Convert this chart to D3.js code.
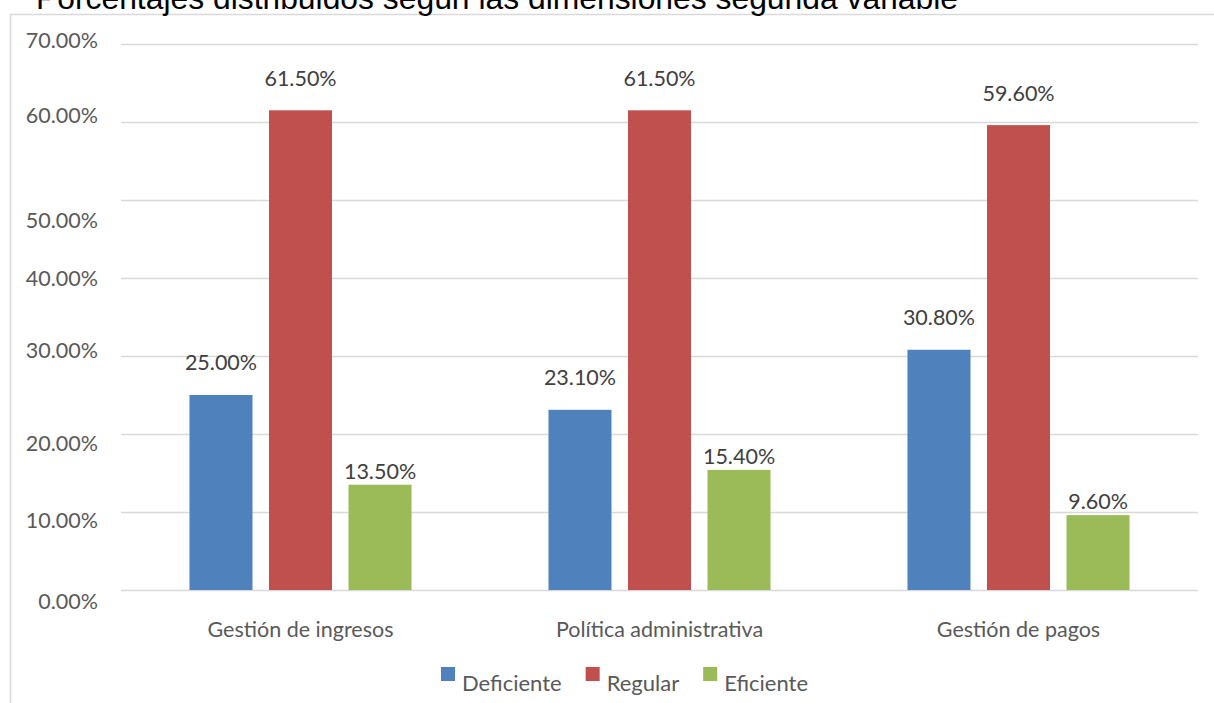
<!DOCTYPE html>
<html>
<head>
<meta charset="utf-8">
<script src="https://cdn.jsdelivr.net/npm/d3@7/dist/d3.min.js"></script>
<style>
  html, body { margin: 0; padding: 0; background: #fff; }
  svg { display: block; }
</style>
</head>
<body>
<svg id="chart" width="1214" height="703"></svg>
<script>
// Data
const categories = ["Gestión de ingresos", "Política administrativa", "Gestión de pagos"];
const seriesNames = ["Deficiente", "Regular", "Eficiente"];
const deficiente = [25.0, 23.1, 30.8];
const regular = [61.5, 61.5, 59.6];
const eficiente = [13.5, 15.4, 9.6];
const yTicks = [0, 10, 20, 30, 40, 50, 60, 70];
const titleText = "Porcentajes distribuidos según las dimensiones segunda variable";

const seriesValues = [deficiente, regular, eficiente];
const colors = ["#4F81BD", "#C0504D", "#9BBB59"];
// gap between bar top and its value label baseline, per series
const labelGap = [25, 24, 6];
// vertical nudge of each y tick label relative to its gridline
const tickNudge = [11, 8, 9, -6, 0, 20, -7, -4];

const font = "Lato, 'Open Sans', sans-serif";
const textColor = "#595959";
const fs = 21.5;

const svg = d3.select("#chart");

// Outer frame
svg.append("path")
  .attr("d", "M10.5,740 V14.5 H1230")
  .attr("fill", "none")
  .attr("stroke", "#d9d9d9")
  .attr("stroke-width", 1.5);

// Title (partly above the visible area)
svg.append("text")
  .attr("x", 36)
  .attr("y", 9)
  .attr("font-family", "'Liberation Sans', Arial, sans-serif")
  .attr("font-size", 31)
  .attr("textLength", 922)
  .attr("lengthAdjust", "spacingAndGlyphs")
  .attr("fill", "#000")
  .text(titleText);

const plot = { left: 121, right: 1198, top: 44, bottom: 590 };

const y = d3.scaleLinear().domain([0, 70]).range([plot.bottom, plot.top]);
const x0 = d3.scaleBand().domain(categories).range([plot.left, plot.right]).paddingInner(0).paddingOuter(0);
const x1 = d3.scaleBand().domain(seriesNames).range([0, x0.bandwidth()]).paddingInner(0.2075).paddingOuter(0.861);

// Gridlines
svg.append("g")
  .selectAll("line")
  .data(yTicks)
  .join("line")
  .attr("x1", plot.left)
  .attr("x2", plot.right)
  .attr("y1", d => Math.round(y(d)) + 0.5)
  .attr("y2", d => Math.round(y(d)) + 0.5)
  .attr("stroke", "#d9d9d9")
  .attr("stroke-width", 1.5);

// Y axis labels
const yAxis = d3.axisLeft(y).tickValues(yTicks).tickSize(0).tickPadding(0)
  .tickFormat(d => d3.format(".2f")(d) + "%");
const yG = svg.append("g").attr("transform", "translate(98,0)").call(yAxis);
yG.select(".domain").remove();
yG.selectAll(".tick text")
  .attr("font-family", font)
  .attr("font-size", fs)
  .attr("fill", textColor)
  .attr("dy", (d, i) => (tickNudge[i] + 7.5) + "px");

// Bars
const rows = categories.map((c, i) => ({
  cat: c,
  vals: seriesNames.map((s, j) => ({ series: s, j, value: seriesValues[j][i] }))
}));

const groups = svg.append("g")
  .selectAll("g")
  .data(rows)
  .join("g")
  .attr("transform", d => `translate(${x0(d.cat)},0)`);

groups.selectAll("rect")
  .data(d => d.vals)
  .join("rect")
  .attr("x", d => x1(d.series))
  .attr("width", x1.bandwidth())
  .attr("y", d => y(d.value))
  .attr("height", d => y(0) - y(d.value))
  .attr("fill", d => colors[d.j]);

groups.selectAll("text.val")
  .data(d => d.vals)
  .join("text")
  .attr("class", "val")
  .attr("x", d => x1(d.series) + x1.bandwidth() / 2)
  .attr("y", d => y(d.value) - labelGap[d.j])
  .attr("text-anchor", "middle")
  .attr("font-family", font)
  .attr("font-size", fs)
  .attr("fill", "#404040")
  .text(d => d3.format(".2f")(d.value) + "%");

// X axis labels
const xAxis = d3.axisBottom(x0).tickSize(0).tickPadding(0);
const xG = svg.append("g").attr("transform", `translate(0,${plot.bottom})`).call(xAxis);
xG.select(".domain").remove();
xG.selectAll(".tick text")
  .attr("font-family", font)
  .attr("font-size", fs)
  .attr("fill", textColor)
  .attr("dy", "0")
  .attr("y", 47);

// Legend
const legend = svg.append("g").attr("transform", "translate(441,667)");
let lx = 0;
seriesNames.forEach((s, i) => {
  const item = legend.append("g").attr("transform", `translate(${lx},0)`);
  item.append("rect").attr("width", 14).attr("height", 14).attr("fill", colors[i]);
  const t = item.append("text")
    .attr("x", 21)
    .attr("y", 24)
    .attr("font-family", font)
    .attr("font-size", 22)
    .attr("fill", textColor)
    .text(s);
  lx += 21 + t.node().getComputedTextLength() + 24;
});
</script>
</body>
</html>
